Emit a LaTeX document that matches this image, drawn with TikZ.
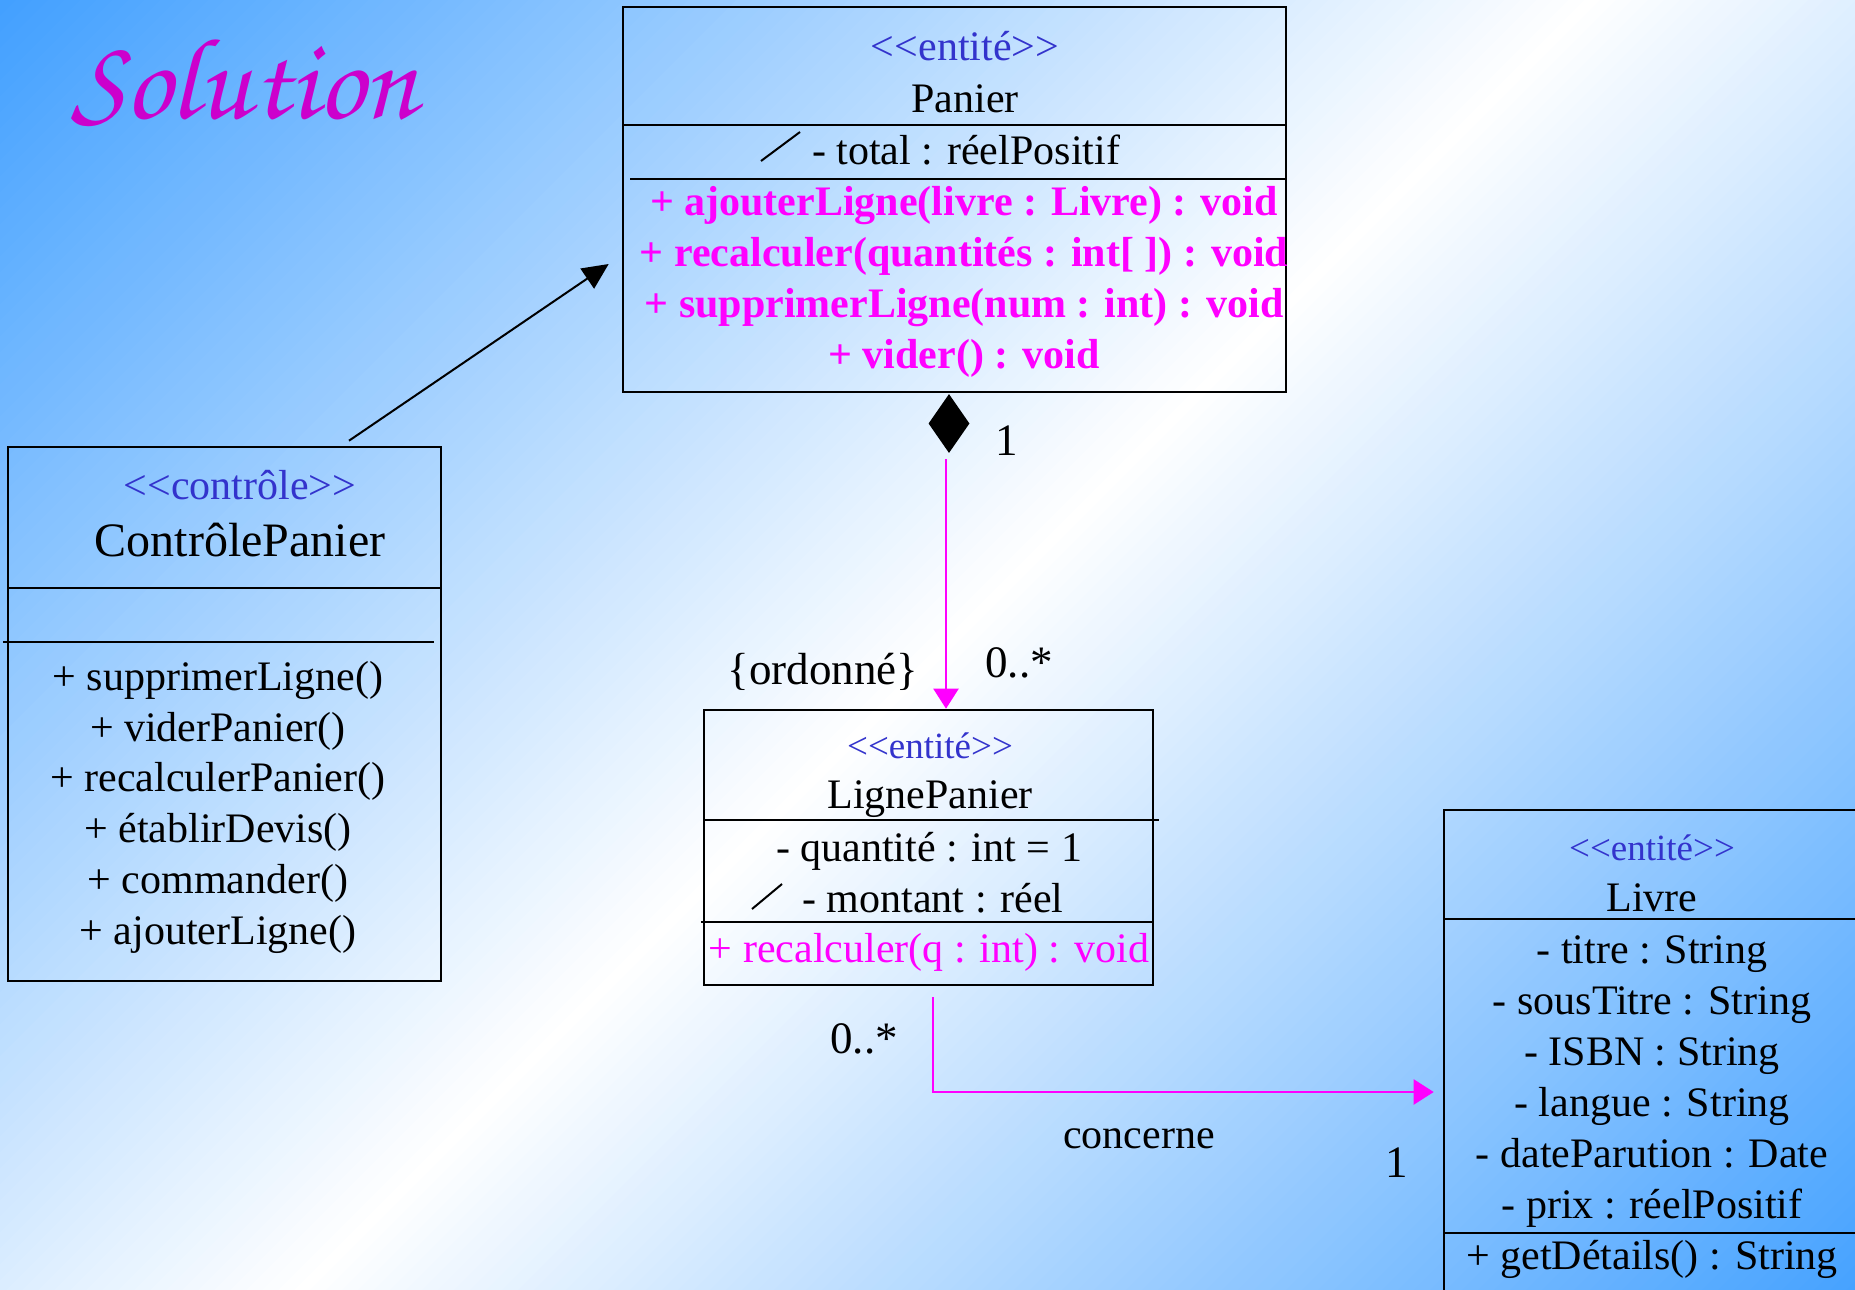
\documentclass[tikz,border=0pt]{standalone}
\usepackage{fontspec}
\setmainfont{Liberation Serif}
\newfontfamily\chorusfont{texgyrechorus-mediumitalic.otf}
\usetikzlibrary{arrows.meta,shapes.geometric}

\definecolor{bgblue}{RGB}{66,160,255}
\definecolor{stereoblue}{RGB}{51,51,204}
\definecolor{opmagenta}{RGB}{255,0,255}
\definecolor{titlepurple}{RGB}{204,0,204}

% guillemet-free double angle brackets
\newcommand\stl{<\kern0pt<}
\newcommand\str{>\kern0pt>}

\tikzset{
  classbox/.style={draw=black, line width=2.6pt, rectangle, inner sep=0pt},
  sepline/.style={line width=2.6pt},
  txt/.style={inner sep=0pt, anchor=base, font=\fontsize{42}{51}\selectfont},
  stereo/.style={txt, text=stereoblue},
  opbold/.style={txt, text=opmagenta, font=\fontsize{42}{51}\selectfont\bfseries},
  opplain/.style={txt, text=opmagenta},
  label/.style={txt, font=\fontsize{45}{54}\selectfont},
  derived/.style={line width=2pt},
  assoc/.style={opmagenta, line width=2.2pt, -{Triangle[length=20pt,width=25pt]}},
  navig/.style={black, line width=2pt, -{Triangle[length=26pt,width=24pt]}},
}

\begin{document}
\begin{tikzpicture}[x=1pt,y=-1pt]
\useasboundingbox (0,0) rectangle (1855,1290);
\begin{scope}
\clip (0,0) rectangle (1855,1290);

% diagonal background: blue -> white -> blue
\foreach \i in {0,...,199} {
  \pgfmathsetmacro\s{\i*16}
  \pgfmathsetmacro\tp{min(100,abs(\s+8-1590)/1590*100)}
  \fill[bgblue!\tp!white] (\s,0) -- ++(17,0) -- ++(-1290,1290) -- ++(-17,0) -- cycle;
}

% title
\node[anchor=base west, inner sep=0pt, text=titlepurple,
      font=\chorusfont\fontsize{116}{120}\selectfont] (title) at (71,118) {Solution};

% ---- Panier ----
\node[classbox, minimum width=663pt, minimum height=385pt] (panier) at (954.5,199.5) {};
\draw[sepline] (623,125) -- (1286,125);
\draw[sepline] (630,179) -- (1286,179);
\node[stereo] (pst) at (965,60) {\stl entité\str};
\node[txt] (pname) at (965,112) {Panier};
\node[txt] (ptotal) at (966,164) {- total : réelPositif};
\draw[derived] (761,161) -- (800,132);
\node[opbold] (pop1) at (964,215) {+ ajouterLigne(livre : Livre) : void};
\node[opbold] (pop2) at (964,266) {+ recalculer(quantités : int[ ]) : void};
\node[opbold] (pop3) at (964,317) {+ supprimerLigne(num : int) : void};
\node[opbold] (pop4) at (964,368) {+ vider() : void};

% ---- ControlePanier ----
\node[classbox, minimum width=433pt, minimum height=534pt] (ctrl) at (224.5,714) {};
\draw[sepline] (8,588) -- (441,588);
\draw[sepline] (3,642) -- (434,642);
\node[stereo] (cst) at (240,499) {\stl contrôle\str};
\node[txt, font=\fontsize{48}{56}\selectfont] (cname) at (240,556) {ContrôlePanier};
\node[txt] (cop1) at (218,690) {+ supprimerLigne()};
\node[txt] (cop2) at (218,741) {+ viderPanier()};
\node[txt] (cop3) at (218,791) {+ recalculerPanier()};
\node[txt] (cop4) at (218,842) {+ établirDevis()};
\node[txt] (cop5) at (218,893) {+ commander()};
\node[txt] (cop6) at (218,944) {+ ajouterLigne()};

% ---- LignePanier ----
\node[classbox, minimum width=449pt, minimum height=275pt] (ligne) at (928.5,847.5) {};
\draw[sepline] (704,820) -- (1159,820);
\draw[sepline] (701,922) -- (1153,922);
\node[stereo, font=\fontsize{37}{45}\selectfont] (lst) at (930,758) {\stl entité\str};
\node[txt] (lname) at (930,808) {LignePanier};
\node[txt] (lat1) at (929,861) {- quantité : int = 1};
\node[txt] (lat2) at (933,912) {- montant : réel};
\draw[derived] (752,909) -- (782,884);
\node[opplain] (lop1) at (929,962) {+ recalculer(q : int) : void};

% ---- Livre ----
\node[classbox, minimum width=456pt, minimum height=530pt] (livre) at (1672,1075) {};
\draw[sepline] (1444,919) -- (1855,919);
\draw[sepline] (1444,1233) -- (1855,1233);
\node[stereo, font=\fontsize{37}{45}\selectfont] (vst) at (1652,860) {\stl entité\str};
\node[txt] (vname) at (1652,911) {Livre};
\node[txt] (vat1) at (1652,963) {- titre : String};
\node[txt] (vat2) at (1652,1014) {- sousTitre : String};
\node[txt] (vat3) at (1652,1065) {- ISBN : String};
\node[txt] (vat4) at (1652,1116) {- langue : String};
\node[txt] (vat5) at (1652,1167) {- dateParution : Date};
\node[txt] (vat6) at (1652,1218) {- prix : réelPositif};
\node[txt] (vop1) at (1652,1269) {+ getDétails() : String};

% ---- connectors ----
\draw[navig] ([xshift=124.5pt,yshift=5pt]ctrl.north) -- ([xshift=-13pt,yshift=-64.5pt]panier.west);

\node[diamond, fill=black, inner sep=0pt, minimum width=41pt, minimum height=59pt] (comp) at (949,423.5) {};
\draw[assoc] ([xshift=-3pt,yshift=-6pt]comp.south) -- ([xshift=17.5pt]ligne.north);
\node[label] (m1) at (1007,455) {1};
\node[label] (m2) at (1019,677) {0..*};
\node[label] (ord) at (823,684) {\{ordonné\}};

\draw[assoc] ([xshift=4.5pt,yshift=-11pt]ligne.south) |- ([yshift=-17pt,xshift=-9pt]livre.west);
\node[label] (m3) at (864,1053) {0..*};
\node[txt] (conc) at (1139,1148) {concerne};
\node[label] (m4) at (1397,1177) {1};
\end{scope}
\end{tikzpicture}
\end{document}
